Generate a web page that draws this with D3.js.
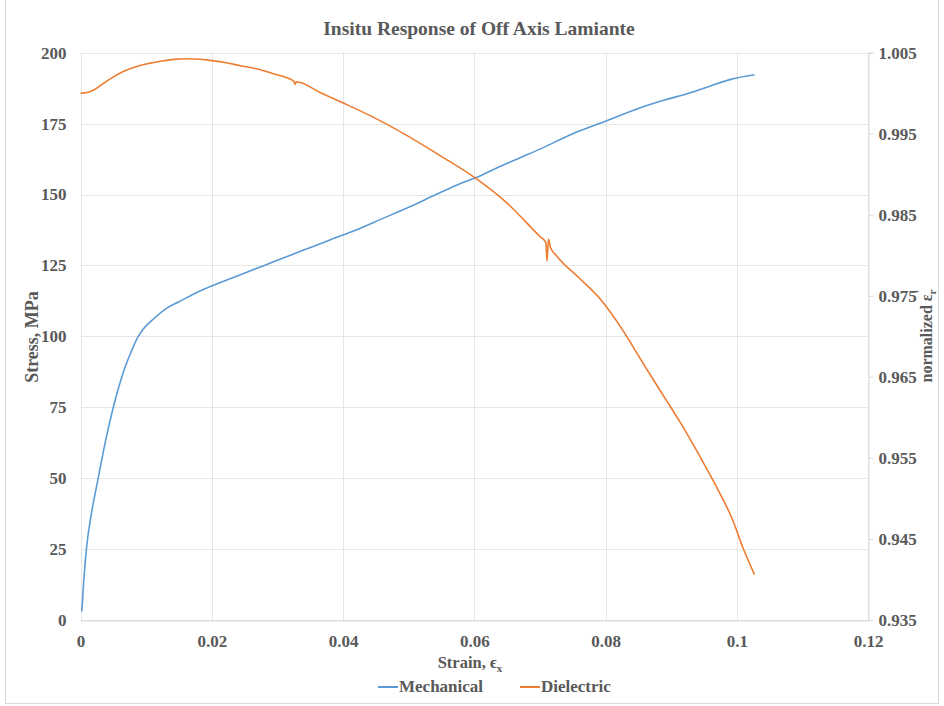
<!DOCTYPE html>
<html>
<head>
<meta charset="utf-8">
<script src="https://cdn.jsdelivr.net/npm/d3@7"></script>
<style>
  html, body { margin: 0; padding: 0; background: #fff; }
  svg { display: block; }
  text { font-family: "Liberation Serif", "Times New Roman", serif; fill: #595959; }
</style>
</head>
<body>
<svg id="chart" width="944" height="706"></svg>
<script>
// Stress–strain response (left axis) and normalized permittivity (right axis)
const mechanical = [
  [0.0002, 3], [0.0005, 14], [0.0009, 25], [0.0017, 38], [0.0027, 50],
  [0.0038, 63], [0.0050, 75], [0.0067, 88.5], [0.0078, 95], [0.0088, 100],
  [0.0096, 102.7], [0.0112, 106.3], [0.0130, 109.7], [0.0150, 112.2], [0.0175, 115.2],
  [0.0220, 119.6], [0.0260, 123.2], [0.0300, 126.8], [0.0340, 130.4], [0.0380, 134],
  [0.0420, 137.5], [0.0460, 141.5], [0.0500, 145.5], [0.0540, 149.8], [0.0580, 154],
  [0.0603, 156], [0.0640, 160], [0.0670, 163], [0.0700, 166], [0.0751, 171.5],
  [0.0802, 176], [0.0852, 180.5], [0.0890, 183.3], [0.0928, 185.8], [0.0960, 188.3],
  [0.0991, 190.6], [0.1027, 192.2]
];

const dielectric = [
  [0.0000, 1.0000], [0.0010, 1.00008], [0.0020, 1.0004], [0.0033, 1.0011], [0.0046, 1.0018],
  [0.0066, 1.0027], [0.0086, 1.0033], [0.0105, 1.00368], [0.0122, 1.00395], [0.0142, 1.00418],
  [0.0162, 1.00426], [0.0182, 1.0042], [0.0198, 1.00405], [0.0220, 1.0038], [0.0243, 1.0034],
  [0.0274, 1.0029], [0.0294, 1.0024], [0.0325, 1.0015], [0.0327, 1.0011], [0.0329, 1.00142],
  [0.0365, 1.0001], [0.0396, 0.99895], [0.0446, 0.99705], [0.0497, 0.99480], [0.0548, 0.99230],
  [0.0603, 0.98945], [0.0650, 0.98644], [0.0700, 0.98232], [0.0709, 0.9816], [0.0711, 0.9793],
  [0.0713, 0.9820], [0.0716, 0.9810], [0.0725, 0.97997], [0.0760, 0.9772], [0.0791, 0.9747],
  [0.0826, 0.9708], [0.0857, 0.9667], [0.0892, 0.9622], [0.0913, 0.9595], [0.0943, 0.9553],
  [0.0968, 0.9516], [0.0994, 0.9473], [0.1009, 0.9440], [0.1027, 0.9406]
];

const xTicks = [0, 0.02, 0.04, 0.06, 0.08, 0.1, 0.12];
const xTickLabels = ["0", "0.02", "0.04", "0.06", "0.08", "0.1", "0.12"];
const stressTicks = [0, 25, 50, 75, 100, 125, 150, 175, 200];
const permTicks = [0.935, 0.945, 0.955, 0.965, 0.975, 0.985, 0.995, 1.005];

const seriesNames = ["Mechanical", "Dielectric"];
const seriesColors = ["#5B9BD5", "#ED7D31"];

const svg = d3.select("#chart");
const plot = { left: 80.5, right: 868, top: 52.7, bottom: 620 };

const x = d3.scaleLinear().domain([0, 0.12]).range([plot.left, plot.right]);
const yL = d3.scaleLinear().domain([0, 200]).range([plot.bottom, plot.top]);
const yR = d3.scaleLinear().domain([0.935, 1.005]).range([plot.bottom, plot.top]);

const tickFont = 17;

// outer chart frame
svg.append("rect")
  .attr("x", 5.5).attr("y", -1).attr("width", 933).attr("height", 704.5)
  .attr("fill", "#fff").attr("stroke", "#D9D9D9").attr("stroke-width", 1);

// gridlines
const grid = svg.append("g").attr("stroke", "#E6E6E6").attr("stroke-width", 1);
grid.selectAll("line.h").data(stressTicks).join("line")
  .attr("x1", plot.left).attr("x2", plot.right)
  .attr("y1", d => Math.round(yL(d)) + 0.5).attr("y2", d => Math.round(yL(d)) + 0.5);
grid.selectAll("line.v").data(xTicks).join("line")
  .attr("y1", plot.top).attr("y2", plot.bottom)
  .attr("x1", d => Math.round(x(d)) + 0.5).attr("x2", d => Math.round(x(d)) + 0.5);

function styleTicks(g) {
  g.selectAll("text").attr("font-size", tickFont).attr("font-weight", "bold")
    .attr("fill", "#595959").attr("font-family", "Liberation Serif");
}

// bottom axis
const xAxis = d3.axisBottom(x).tickValues(xTicks)
  .tickFormat((d, i) => xTickLabels[i]).tickSize(0).tickPadding(14);
const gx = svg.append("g").attr("transform", `translate(0,${Math.round(plot.bottom) + 0.5})`).call(xAxis);
gx.select(".domain").attr("stroke", "#D9D9D9");
styleTicks(gx);

// left axis
const yAxisL = d3.axisLeft(yL).tickValues(stressTicks).tickSize(0).tickPadding(14);
const gl = svg.append("g").attr("transform", `translate(${plot.left},0)`).call(yAxisL);
gl.select(".domain").remove();
styleTicks(gl);

// right axis
const yAxisR = d3.axisRight(yR).tickValues(permTicks).tickFormat(d3.format(".3f"))
  .tickSize(5).tickPadding(5);
const gr = svg.append("g").attr("transform", `translate(${Math.round(plot.right) + 0.5},0)`).call(yAxisR);
gr.select(".domain").attr("stroke", "#D9D9D9");
gr.selectAll(".tick line").attr("stroke", "#D9D9D9");
styleTicks(gr);

// series
const lineL = d3.line().curve(d3.curveMonotoneX).x(d => x(d[0])).y(d => yL(d[1]));
const lineR = d3.line().curve(d3.curveMonotoneX).x(d => x(d[0])).y(d => yR(d[1]));
svg.append("path").datum(mechanical).attr("d", lineL)
  .attr("fill", "none").attr("stroke", seriesColors[0]).attr("stroke-width", 1.6)
  .attr("stroke-linejoin", "round");
svg.append("path").datum(dielectric).attr("d", lineR)
  .attr("fill", "none").attr("stroke", seriesColors[1]).attr("stroke-width", 1.6)
  .attr("stroke-linejoin", "round");

// title
svg.append("text").attr("x", 479).attr("y", 35).attr("text-anchor", "middle")
  .attr("font-size", 19.5).attr("font-weight", "bold").text("Insitu Response of Off Axis Lamiante");

// x axis title
const xt = svg.append("text").attr("x", 470).attr("y", 668).attr("text-anchor", "middle")
  .attr("font-size", 16.5).attr("font-weight", "bold");
xt.append("tspan").text("Strain, ϵ");
xt.append("tspan").attr("font-size", 11).attr("dy", 4).text("x");

// left axis title
svg.append("text").attr("transform", "translate(38,337) rotate(-90)")
  .attr("text-anchor", "middle").attr("font-size", 18).attr("font-weight", "bold")
  .text("Stress, MPa");

// right axis title
const rt = svg.append("text").attr("transform", "translate(932,336) rotate(-90)")
  .attr("text-anchor", "middle").attr("font-size", 16).attr("font-weight", "bold");
rt.append("tspan").text("normalized ε");
rt.append("tspan").attr("font-size", 11).attr("dy", 4).text("r");
rt.append("tspan").attr("font-size", 14).attr("dx", -4).attr("dy", -11).text("'");

// legend
const legend = svg.append("g").attr("transform", "translate(0,692)");
const legendX = [378, 520];
seriesNames.forEach((name, i) => {
  legend.append("line").attr("x1", legendX[i]).attr("x2", legendX[i] + 20)
    .attr("y1", -5).attr("y2", -5).attr("stroke", seriesColors[i]).attr("stroke-width", 2);
  legend.append("text").attr("x", legendX[i] + 21).attr("y", 0)
    .attr("font-size", 17).attr("font-weight", "bold").text(name);
});
</script>
</body>
</html>
